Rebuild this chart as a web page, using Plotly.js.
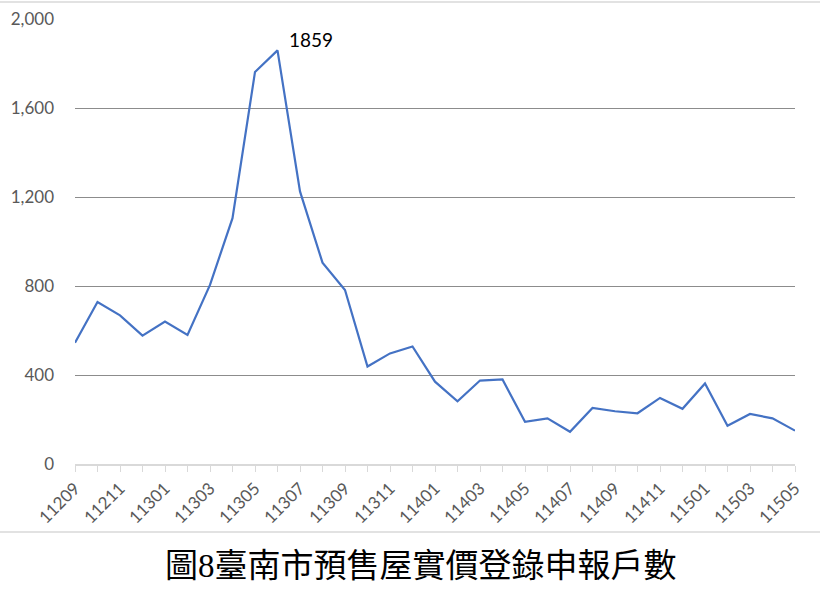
<!DOCTYPE html>
<html>
<head>
<meta charset="utf-8">
<script src="https://cdn.plot.ly/plotly-3.0.1.min.js"></script>
<style>
  html, body { margin: 0; padding: 0; background: #fff; }
  #chart { width: 820px; height: 590px; }
</style>
</head>
<body>
<div id="chart"></div>
<script>
// 申報月份（民國年月）
const months = [
  '11209', '11210', '11211', '11212',
  '11301', '11302', '11303', '11304', '11305', '11306',
  '11307', '11308', '11309', '11310', '11311', '11312',
  '11401', '11402', '11403', '11404', '11405', '11406',
  '11407', '11408', '11409', '11410', '11411', '11412',
  '11501', '11502', '11503', '11504', '11505'
];

// 預售屋實價登錄申報戶數
const households = [
  545, 728, 668, 577,
  640, 580, 805, 1105, 1762, 1859,
  1225, 905, 782, 438, 497, 528,
  370, 282, 375, 380, 190, 205,
  145, 252, 237, 228, 297, 248,
  362, 172, 225, 205, 150
];

const peakLabel = '1859';
const chartTitle = '圖8臺南市預售屋實價登錄申報戶數';

const peakIdx = households.indexOf(Math.max(...households));

const data = [{
  x: months,
  y: households,
  type: 'scatter',
  mode: 'lines',
  line: { color: '#4472C4', width: 2.2 },
  hoverinfo: 'x+y'
}];

const layout = {
  width: 820,
  height: 590,
  margin: { l: 75, r: 25, t: 19, b: 126 },
  paper_bgcolor: '#fff',
  plot_bgcolor: '#fff',
  showlegend: false,
  font: { family: 'Lato, "Liberation Sans", sans-serif', color: '#595959', size: 17 },
  xaxis: {
    type: 'category',
    range: [0, months.length - 1],
    tickmode: 'array',
    tickvals: months,
    ticktext: months.map((m, i) => (i % 2 ? '' : m)),
    tickangle: -45,
    ticks: 'outside',
    ticklen: 6,
    tickcolor: '#d9d9d9',
    showline: true,
    linecolor: '#d9d9d9',
    linewidth: 1.5,
    showgrid: false,
    zeroline: false,
    tickfont: { size: 17, color: '#595959' }
  },
  yaxis: {
    range: [0, 2000],
    dtick: 400,
    tickformat: ',d',
    showgrid: true,
    gridcolor: '#8c8c8c',
    gridwidth: 1,
    zeroline: false,
    showline: false,
    ticks: '',
    ticklabelstandoff: 20,
    tickfont: { size: 17, color: '#595959' }
  },
  annotations: [
    {
      // category axis: position by index
      x: peakIdx,
      y: households[peakIdx],
      text: peakLabel,
      showarrow: false,
      xanchor: 'left',
      yanchor: 'bottom',
      xshift: 9,
      yshift: -3,
      font: { size: 19, color: '#000' }
    },
    {
      xref: 'paper',
      yref: 'paper',
      x: 0.48,
      y: -0.229,
      text: chartTitle,
      showarrow: false,
      xanchor: 'center',
      yanchor: 'middle',
      font: { family: '"Liberation Serif", "Noto Sans CJK TC", serif', size: 33, color: '#000' }
    }
  ],
  shapes: [
    {
      type: 'line', xref: 'paper', yref: 'paper',
      x0: -0.12, x1: 1.05, y0: 1.038, y1: 1.038,
      line: { color: '#d9d9d9', width: 1.5 }
    },
    {
      type: 'line', xref: 'paper', yref: 'paper',
      x0: -0.12, x1: 1.05, y0: -0.153, y1: -0.153,
      line: { color: '#d9d9d9', width: 1.5 }
    }
  ]
};

Plotly.newPlot('chart', data, layout, { displayModeBar: false, responsive: false });
</script>
</body>
</html>
